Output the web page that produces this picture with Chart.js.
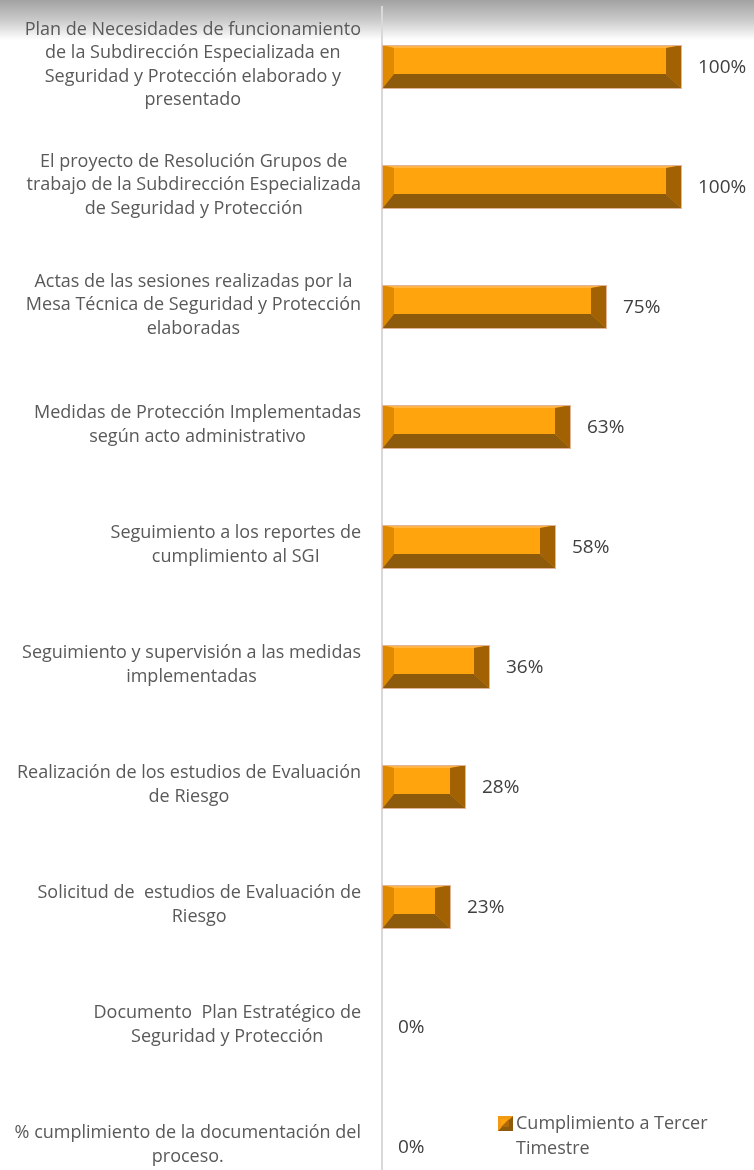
<!DOCTYPE html>
<html>
<head>
<meta charset="utf-8">
<script src="https://cdn.jsdelivr.net/npm/chart.js@4.4.1/dist/chart.umd.min.js"></script>
<style>
  html, body { margin: 0; padding: 0; background: #fff; overflow: hidden; }
  #wrap { position: relative; width: 754px; height: 1207px; }
</style>
</head>
<body>
<div id="wrap"><canvas id="avance"></canvas></div>
<script>
// categorias (ya partidas en lineas como en el grafico original)
const categorias = [
  ['Plan de Necesidades de funcionamiento', 'de la Subdirección Especializada en', 'Seguridad y Protección elaborado y', 'presentado'],
  ['El proyecto de Resolución Grupos de', 'trabajo de la Subdirección Especializada', 'de Seguridad y Protección'],
  ['Actas de las sesiones realizadas por la', 'Mesa Técnica de Seguridad y Protección', 'elaboradas'],
  ['Medidas de Protección Implementadas', 'según acto administrativo'],
  ['Seguimiento a los reportes de', 'cumplimiento al SGI'],
  ['Seguimiento y supervisión a las medidas', 'implementadas'],
  ['Realización de los estudios de Evaluación', 'de Riesgo'],
  ['Solicitud de  estudios de Evaluación de', 'Riesgo'],
  ['Documento  Plan Estratégico de', 'Seguridad y Protección'],
  ['% cumplimiento de la documentación del', 'proceso.']
];
const cumplimiento = [100, 100, 75, 63, 58, 36, 28, 23, 0, 0];
const serie = 'Cumplimiento a Tercer Timestre';

const FUENTE = '"Open Sans", "Noto Sans", sans-serif';

// franja gris degradada arriba
const fondo = {
  id: 'fondo',
  beforeDraw(chart) {
    const { ctx, width } = chart;
    const g = ctx.createLinearGradient(0, 0, 0, 40);
    g.addColorStop(0, '#A2A2A2');
    g.addColorStop(0.5, '#CACACA');
    g.addColorStop(1, '#FFFFFF');
    ctx.save();
    ctx.fillStyle = g;
    ctx.fillRect(0, 0, width, 40);
    ctx.restore();
  }
};

// barras con efecto bisel
const bisel = {
  id: 'bisel',
  afterDatasetsDraw(chart) {
    const { ctx } = chart;
    const meta = chart.getDatasetMeta(0);
    ctx.save();
    meta.data.forEach(bar => {
      const L = bar.base, R = bar.x;
      const T = bar.y - bar.height / 2, B = bar.y + bar.height / 2;
      if (R - L < 1) return;
      const bl = 12, br = 16, bt = 3, bb = 15;
      const poly = (pts, color) => {
        ctx.beginPath();
        ctx.moveTo(pts[0][0], pts[0][1]);
        for (let i = 1; i < pts.length; i++) ctx.lineTo(pts[i][0], pts[i][1]);
        ctx.closePath();
        ctx.fillStyle = color;
        ctx.fill();
      };
      poly([[L, T], [R, T], [R, B], [L, B]], '#FFA40C');
      poly([[L, T], [R, T], [R - br, T + bt], [L + bl, T + bt]], '#FFB545');
      poly([[L, T], [L + bl, T + bt], [L + bl, B - bb], [L, B]], '#E08A02');
      poly([[R, T], [R, B], [R - br, B - bb], [R - br, T + bt]], '#A26204');
      poly([[L, B], [R, B], [R - br, B - bb], [L + bl, B - bb]], '#8E5B0C');
      ctx.strokeStyle = '#E2B49A';
      ctx.lineWidth = 1;
      ctx.strokeRect(L + 0.5, T + 0.5, R - L - 1, B - T - 1);
    });
    ctx.restore();
  }
};

// textos: categorias, etiquetas de datos y leyenda
const textos = {
  id: 'textos',
  afterDraw(chart) {
    const { ctx, chartArea } = chart;
    const yScale = chart.scales.y;
    const meta = chart.getDatasetMeta(0);
    ctx.save();

    // etiquetas de categoria: bloque alineado a la derecha, lineas centradas
    ctx.font = '18px ' + FUENTE;
    ctx.fillStyle = '#595959';
    ctx.textAlign = 'center';
    ctx.textBaseline = 'middle';
    const lh = 23.5;
    categorias.forEach((lineas, i) => {
      const yc = yScale.getPixelForValue(i) - 2;
      const ancho = Math.max(...lineas.map(t => ctx.measureText(t).width));
      const cx = chartArea.left - 21 - ancho / 2;
      const y0 = yc - (lineas.length - 1) * lh / 2;
      lineas.forEach((t, k) => ctx.fillText(t, cx, y0 + k * lh));
    });

    // valores
    ctx.font = '19px ' + FUENTE;
    ctx.fillStyle = '#404040';
    ctx.textAlign = 'left';
    meta.data.forEach((bar, i) => {
      ctx.fillText(cumplimiento[i] + '%', bar.x + 16, bar.y + 1);
    });

    // leyenda
    const lx = chartArea.left + 116;
    const ly = yScale.getPixelForValue(cumplimiento.length - 1) - 31;
    const s = 15;
    ctx.fillStyle = '#8E5B0C';
    ctx.fillRect(lx, ly, s, s);
    ctx.beginPath();
    ctx.moveTo(lx, ly); ctx.lineTo(lx + s, ly); ctx.lineTo(lx, ly + s); ctx.closePath();
    ctx.fillStyle = '#F39A12';
    ctx.fill();
    ctx.fillStyle = '#FFA40C';
    ctx.fillRect(lx + 3, ly + 3, s - 7, s - 7);
    ctx.beginPath();
    ctx.moveTo(lx + s - 4, ly + 3); ctx.lineTo(lx + s - 4, ly + s - 4); ctx.lineTo(lx + 3, ly + s - 4); ctx.closePath();
    ctx.fillStyle = '#B06A08';
    ctx.fill();

    ctx.font = '18px ' + FUENTE;
    ctx.fillStyle = '#595959';
    const maxW = chart.width - (lx + s + 3) - 8;
    const palabras = serie.split(' ');
    const lineas = [];
    let actual = '';
    palabras.forEach(p => {
      const prueba = actual ? actual + ' ' + p : p;
      if (ctx.measureText(prueba).width > maxW && actual) { lineas.push(actual); actual = p; }
      else actual = prueba;
    });
    lineas.push(actual);
    lineas.forEach((t, k) => ctx.fillText(t, lx + s + 3, ly + s / 2 + k * 25));

    ctx.restore();
  }
};

new Chart(document.getElementById('avance'), {
  type: 'bar',
  data: {
    labels: categorias,
    datasets: [{
      label: serie,
      data: cumplimiento,
      backgroundColor: 'rgba(0,0,0,0)',
      borderWidth: 0,
      barThickness: 44
    }]
  },
  options: {
    indexAxis: 'y',
    responsive: true,
    maintainAspectRatio: false,
    animation: false,
    layout: { padding: { top: 7, right: 72, left: 0, bottom: 0 } },
    scales: {
      x: { min: 0, max: 100, display: false },
      y: {
        grid: { display: false, drawTicks: false },
        border: { display: true, color: '#D9D9D9', width: 2 },
        ticks: { display: false },
        afterFit(scale) { scale.width = 382; }
      }
    },
    plugins: {
      legend: { display: false },
      tooltip: { enabled: false }
    }
  },
  plugins: [fondo, bisel, textos]
});
</script>
</body>
</html>
